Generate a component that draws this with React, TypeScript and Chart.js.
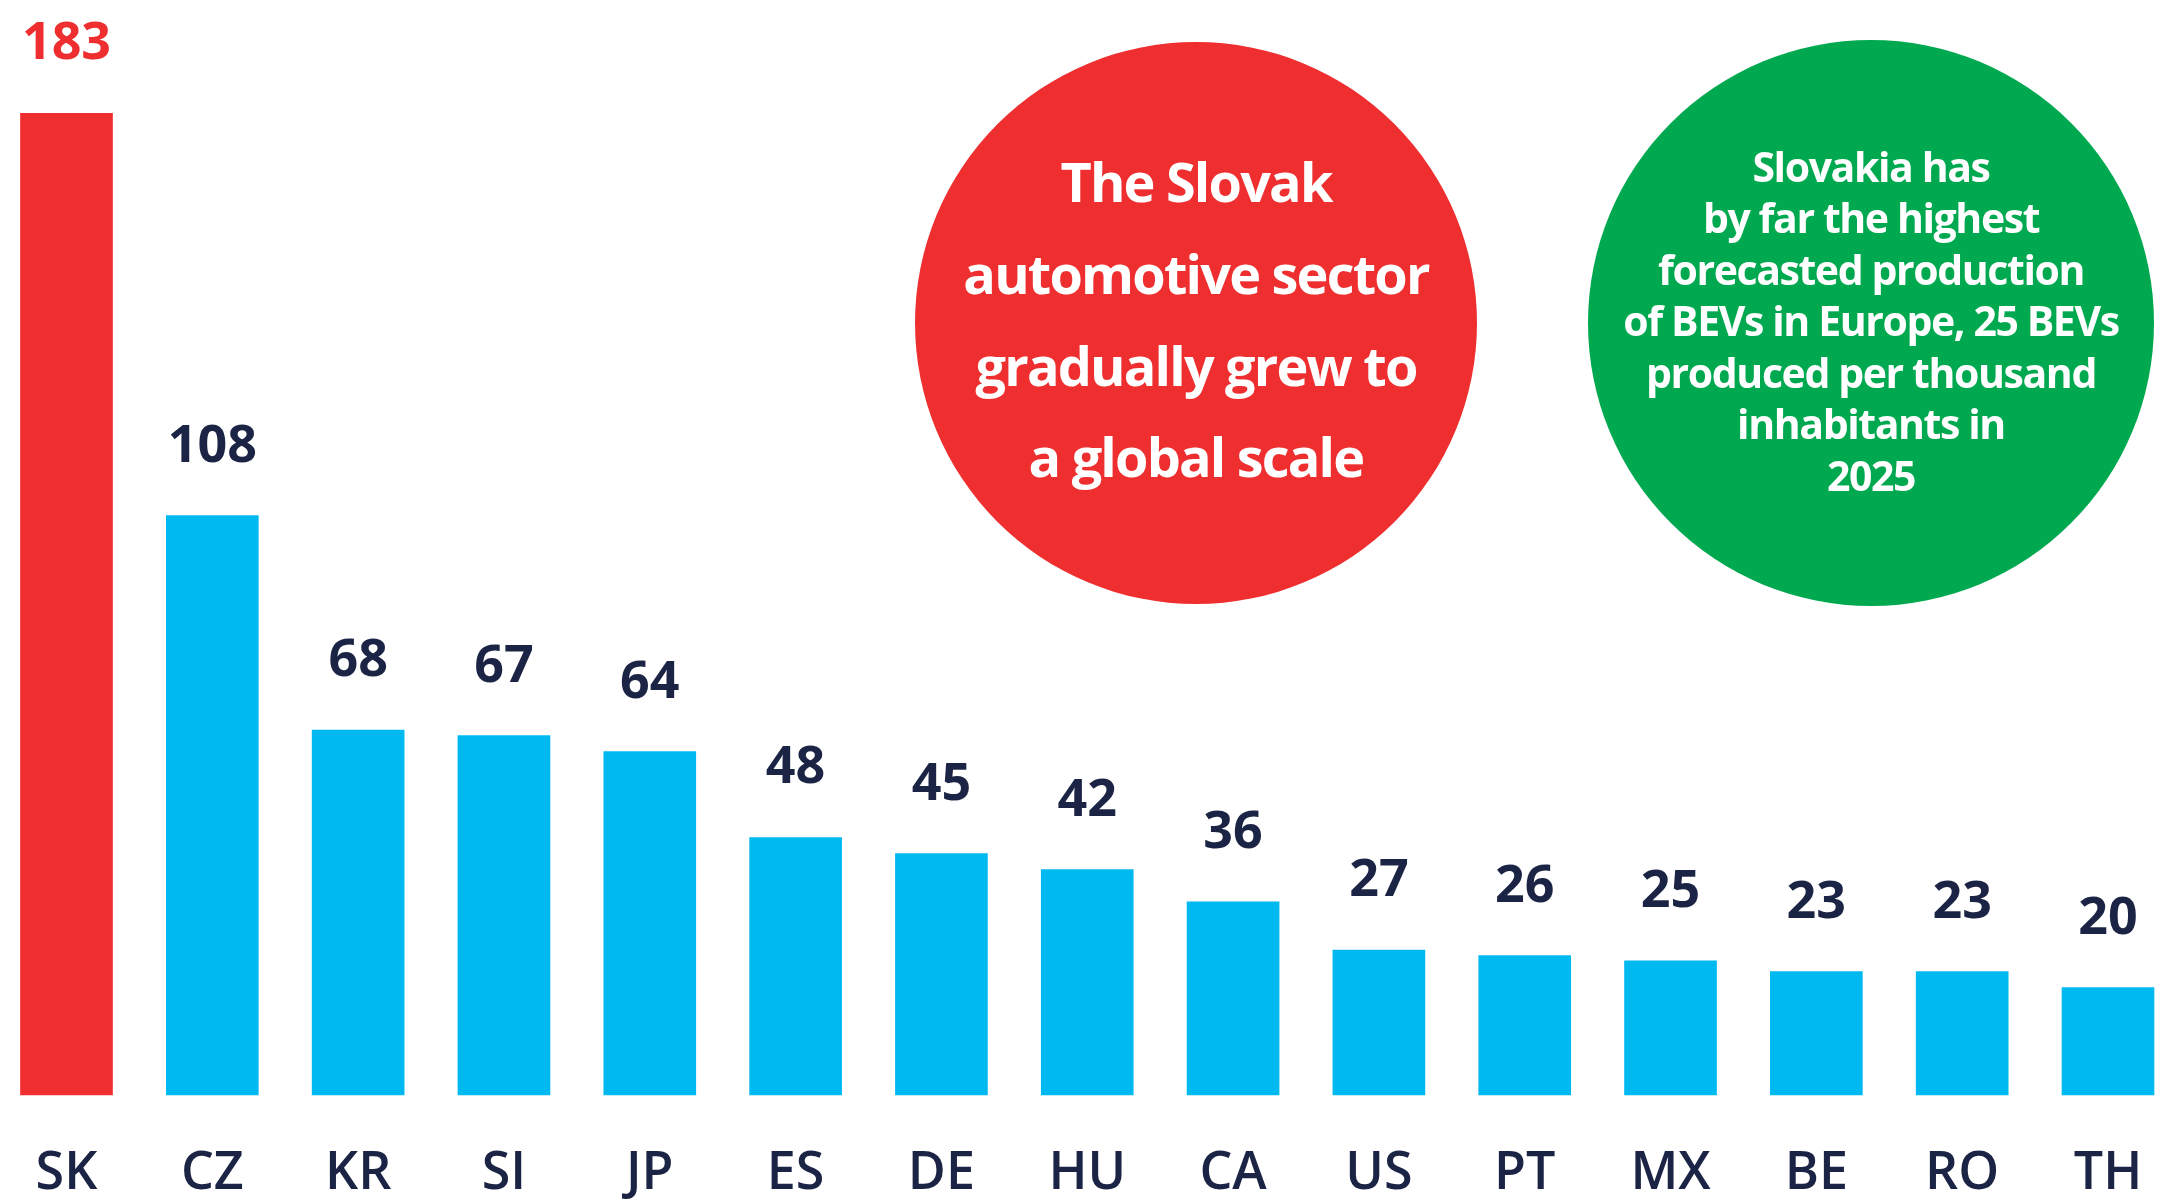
import React, { useEffect, useRef } from "react";
import { Chart, registerables } from "chart.js";

Chart.register(...registerables);

const categories = ["SK", "CZ", "KR", "SI", "JP", "ES", "DE", "HU", "CA", "US", "PT", "MX", "BE", "RO", "TH"];
const values = [183, 108, 68, 67, 64, 48, 45, 42, 36, 27, 26, 25, 23, 23, 20];
const highlightCategory = "SK";
const redBubbleLines = ["The Slovak", "automotive sector", "gradually grew to", "a global scale"];
const greenBubbleLines = [
  "Slovakia has",
  "by far the highest",
  "forecasted production",
  "of BEVs in Europe, 25 BEVs",
  "produced per thousand",
  "inhabitants in",
  "2025",
];

const W = 2173;
const H = 1202;
const RED = "#EE2E2F";
const BLUE = "#00B9F1";
const GREEN = "#00A94F";
const NAVY = "#1B2444";
const FONT = "'Open Sans', 'Noto Sans', sans-serif";

function drawBubble(
  ctx: CanvasRenderingContext2D,
  cx: number,
  cy: number,
  r: number,
  color: string,
  lines: string[],
  size: number,
  spacing: number,
  firstCenter: number,
  lineGap: number
) {
  ctx.save();
  ctx.beginPath();
  ctx.arc(cx, cy, r, 0, Math.PI * 2);
  ctx.fillStyle = color;
  ctx.fill();
  ctx.fillStyle = "#ffffff";
  ctx.font = `700 ${size}px ${FONT}`;
  (ctx as any).letterSpacing = `${spacing}px`;
  ctx.textAlign = "center";
  ctx.textBaseline = "alphabetic";
  lines.forEach((line, i) => {
    ctx.fillText(line, cx, firstCenter + i * lineGap + size * 0.34);
  });
  ctx.restore();
}

const overlayPlugin = {
  id: "overlay",
  beforeDatasetsDraw(chart: any) {
    const ctx = chart.ctx as CanvasRenderingContext2D;
    drawBubble(ctx, 1196, 323, 281, RED, redBubbleLines, 54, -1.8, 184, 91.7);
    drawBubble(ctx, 1871, 323, 283, GREEN, greenBubbleLines, 41, -1.4, 168, 51.5);
  },
  afterDatasetsDraw(chart: any) {
    const ctx = chart.ctx as CanvasRenderingContext2D;
    const meta = chart.getDatasetMeta(0);
    ctx.save();
    ctx.textAlign = "center";
    ctx.textBaseline = "alphabetic";
    meta.data.forEach((bar: any, i: number) => {
      const cat = categories[i];
      ctx.font = `700 52px ${FONT}`;
      ctx.fillStyle = cat === highlightCategory ? RED : NAVY;
      ctx.fillText(String(values[i]), bar.x, bar.y - 54);
      ctx.font = `600 52px ${FONT}`;
      ctx.fillStyle = NAVY;
      ctx.fillText(cat, bar.x, 1189);
    });
    ctx.restore();
  },
};

export default function App() {
  const ref = useRef<HTMLCanvasElement | null>(null);

  useEffect(() => {
    document.body.style.margin = "0";
    const canvas = ref.current;
    if (!canvas) return;
    const chart = new Chart(canvas, {
      type: "bar",
      data: {
        labels: categories,
        datasets: [
          {
            data: values,
            backgroundColor: categories.map((c) => (c === highlightCategory ? RED : BLUE)),
            borderWidth: 0,
            barThickness: 92,
            clip: false as any,
          },
        ],
      },
      options: {
        responsive: false,
        animation: false,
        devicePixelRatio: 1,
        layout: { padding: { left: 66.5, right: 65, top: 22, bottom: 107 } },
        plugins: { legend: { display: false }, tooltip: { enabled: false } },
        scales: {
          x: { display: false, offset: false, grid: { display: false } },
          y: { display: false, min: 0, max: 200, grid: { display: false } },
        },
      },
      plugins: [overlayPlugin],
    });
    return () => chart.destroy();
  }, []);

  return (
    <div style={{ position: "absolute", left: 0, top: 0, width: W, height: H, background: "#fff" }}>
      <canvas ref={ref} width={W} height={H} style={{ width: W, height: H, display: "block" }} />
    </div>
  );
}
